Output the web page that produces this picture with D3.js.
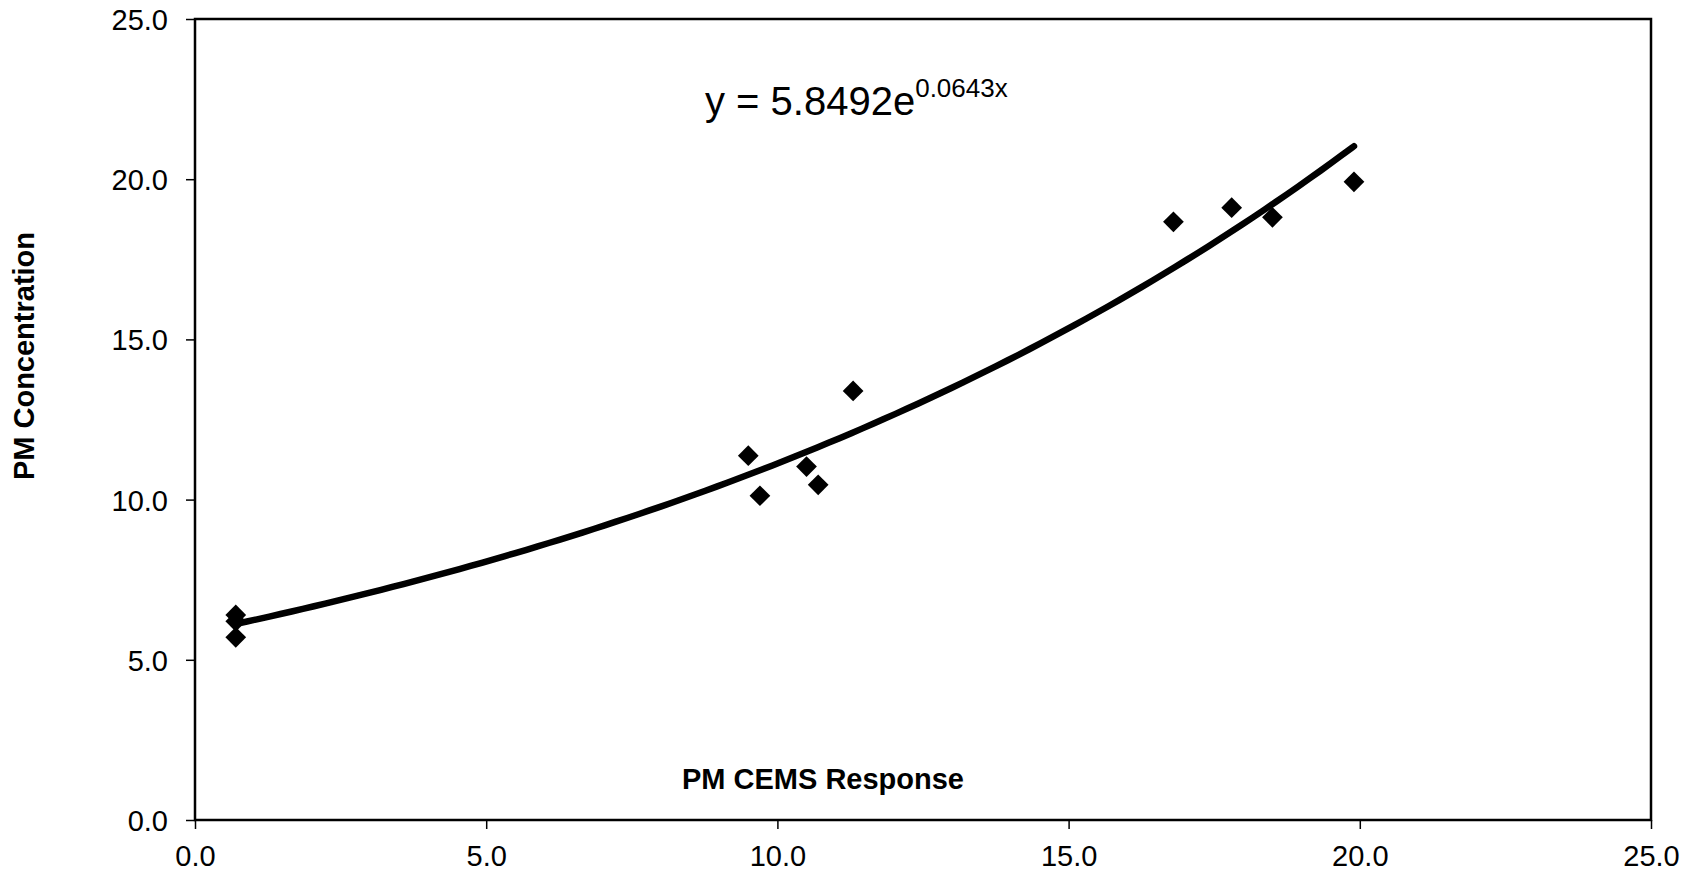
<!DOCTYPE html>
<html>
<head>
<meta charset="utf-8">
<script src="https://cdn.jsdelivr.net/npm/d3@7"></script>
<style>
  body { margin: 0; background: #fff; }
  svg { display: block; font-family: "Liberation Sans", Arial, sans-serif; }
  .tick text { font-size: 29px; fill: #000; }
  .axis path { display: none; }
  .axis line { stroke: #000; stroke-width: 1.5px; }
</style>
</head>
<body>
<div id="graph"></div>
<script>
var cems_response = [0.7, 0.7, 0.7, 9.5, 9.7, 10.5, 10.7, 11.3, 16.8, 17.8, 18.5, 19.9];
var pm_concentration = [6.4, 6.2, 5.7, 11.37, 10.12, 11.03, 10.46, 13.39, 18.67, 19.11, 18.81, 19.92];

var x_ticks = [0, 5, 10, 15, 20, 25];
var y_ticks = [0, 5, 10, 15, 20, 25];

// exponential trendline, as printed on the chart
var fit_a = 5.8492, fit_b = 0.0643;
var fit_label = "y = 5.8492e";
var fit_exp_label = "0.0643x";

var x_title = "PM CEMS Response",
    y_title = "PM Concentration";

var W = 1699, H = 874;
var margin = {top: 19, right: 48, bottom: 54, left: 195};
var width = W - margin.left - margin.right,
    height = H - margin.top - margin.bottom;

var x = d3.scaleLinear().domain([0, 25]).range([0, width]),
    y = d3.scaleLinear().domain([0, 25]).range([height, 0]);

var svg = d3.select("#graph").append("svg")
    .attr("width", W)
    .attr("height", H);

svg.append("rect").attr("width", W).attr("height", H).attr("fill", "#fff");

var g = svg.append("g")
    .attr("transform", "translate(" + margin.left + "," + margin.top + ")");

g.append("g")
    .attr("class", "axis axis--x")
    .attr("transform", "translate(0," + height + ")")
    .call(d3.axisBottom(x).tickValues(x_ticks).tickSize(9).tickPadding(16).tickFormat(d3.format(".1f")))
  .selectAll("text")
    .attr("dy", "0.71em");

g.append("g")
    .attr("class", "axis axis--y")
    .call(d3.axisLeft(y).tickValues(y_ticks).tickSize(9).tickPadding(18).tickFormat(d3.format(".1f")))
  .selectAll("text")
    .attr("dy", "0.36em");

// plot frame
g.append("rect")
    .attr("width", width)
    .attr("height", height)
    .attr("fill", "none")
    .attr("stroke", "#000")
    .attr("stroke-width", 2.5);

// trendline from min to max x of the data
var xmin = d3.min(cems_response), xmax = d3.max(cems_response);
var fit_pts = d3.range(0, 101).map(function(i) {
  var xv = xmin + (xmax - xmin) * i / 100;
  return [xv, fit_a * Math.exp(fit_b * xv)];
});

var fit_line = d3.line()
    .curve(d3.curveBasis)
    .x(function(d) { return x(d[0]); })
    .y(function(d) { return y(d[1]); });

g.append("path")
    .datum(fit_pts)
    .attr("d", fit_line)
    .attr("fill", "none")
    .attr("stroke", "#000")
    .attr("stroke-width", 6.5)
    .attr("stroke-linecap", "round");

var points = cems_response.map(function(v, i) { return {x: v, y: pm_concentration[i]}; });

var diamond = d3.symbol().type(d3.symbolSquare).size(215);
g.selectAll(".pt")
    .data(points)
  .enter().append("path")
    .attr("class", "pt")
    .attr("d", diamond)
    .attr("fill", "#000")
    .attr("transform", function(d) { return "translate(" + x(d.x) + "," + y(d.y) + ") rotate(45)"; });

// equation label
var eq = svg.append("text")
    .attr("x", 705)
    .attr("y", 115)
    .attr("fill", "#000");
eq.append("tspan")
    .style("font-size", "40px")
    .text(fit_label);
eq.append("tspan")
    .style("font-size", "26px")
    .attr("dy", -18)
    .text(fit_exp_label);

// axis titles
svg.append("text")
    .attr("x", 823)
    .attr("y", 789)
    .attr("text-anchor", "middle")
    .style("font-size", "29px")
    .style("font-weight", "bold")
    .text(x_title);

svg.append("text")
    .attr("transform", "translate(34,356) rotate(-90)")
    .attr("text-anchor", "middle")
    .style("font-size", "29px")
    .style("font-weight", "bold")
    .text(y_title);
</script>
</body>
</html>
